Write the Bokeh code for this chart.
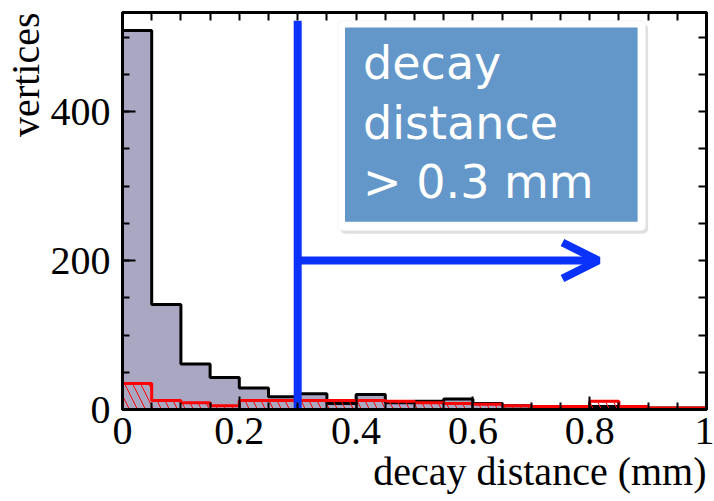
import numpy as np
from bokeh.plotting import figure
from bokeh.models import (Range1d, FixedTicker, LinearAxis, Title, Label,
                          BoxAnnotation, Arrow, OpenHead)
from bokeh.embed import file_html
from bokeh.resources import INLINE

# ---------------- data ----------------
bin_edges = [round(0.05 * i, 2) for i in range(21)]
all_counts = [509, 141, 61, 43, 29, 17, 21, 8, 20, 9, 11, 14, 8, 5, 3, 3, 4, 3, 2, 2]
sel_counts = [35, 12, 9, 5, 12, 12, 12, 12, 12, 11, 9, 8, 7, 5, 4, 4, 11, 4, 2, 2]
x_ticks = [0, 0.2, 0.4, 0.6, 0.8, 1]
y_ticks = [0, 200, 400]
cut_value = 0.3
cut_line_top = 522
arrow_end = 0.815
arrow_y = 200
box_lines = ["decay", "distance", "> 0.3 mm"]

BLUE = "#0a32fa"
GRAY = "#aaa7c3"
SERIF = "Liberation Serif"

p = figure(width=714, height=501, x_range=Range1d(0, 1), y_range=Range1d(0, 533),
           output_backend="svg", toolbar_location=None,
           min_border_left=121, min_border_right=8, min_border_top=12, min_border_bottom=92)
p.xgrid.visible = False
p.ygrid.visible = False
p.outline_line_color = "black"
p.outline_line_width = 3
p.background_fill_color = "white"
p.border_fill_color = "white"

all_steps = all_counts + [all_counts[-1]]
sel_steps = sel_counts + [sel_counts[-1]]

p.varea_step(x=bin_edges, y1=[0] * len(bin_edges), y2=all_steps, step_mode="after",
             fill_color=GRAY)
p.step(x=bin_edges, y=all_steps, mode="after", line_color="black", line_width=3)
p.varea_step(x=bin_edges, y1=[0] * len(bin_edges), y2=sel_steps, step_mode="after",
             fill_alpha=0, hatch_pattern="\\", hatch_color="red",
             hatch_weight=1, hatch_scale=16)
p.step(x=bin_edges, y=sel_steps, mode="after", line_color="red", line_width=3)

# cut line and arrow
p.segment(x0=[cut_value], y0=[0], x1=[cut_value], y1=[cut_line_top],
          line_color=BLUE, line_width=8)
p.add_layout(Arrow(end=OpenHead(size=36, line_color=BLUE, line_width=8),
                   x_start=cut_value, y_start=arrow_y, x_end=arrow_end, y_end=arrow_y,
                   line_color=BLUE, line_width=8))

# annotation box
p.add_layout(BoxAnnotation(left=0.373, right=0.9, bottom=236, top=518,
                           fill_color="black", fill_alpha=0.12, line_color=None,
                           border_radius=5))
p.add_layout(BoxAnnotation(left=0.369, right=0.896, bottom=240, top=522,
                           fill_color="white", fill_alpha=1, line_color="#dddddd",
                           line_width=1, border_radius=5))
p.add_layout(BoxAnnotation(left=0.381, right=0.882, bottom=252, top=513,
                           fill_color="#6397c9", fill_alpha=1, line_color=None))
for i, t in enumerate(box_lines):
    p.add_layout(Label(x=0.412, y=465 - i * 80, text=t, text_color="white",
                       text_font="DejaVu Sans", text_font_size="46px",
                       text_baseline="alphabetic"))

# axes
def style_axis(ax):
    ax.axis_line_color = "black"
    ax.axis_line_width = 3
    ax.major_tick_in = 13
    ax.major_tick_out = 0
    ax.minor_tick_in = 7
    ax.minor_tick_out = 0
    ax.major_tick_line_width = 2
    ax.minor_tick_line_width = 2
    ax.major_tick_line_color = "black"
    ax.minor_tick_line_color = "black"

x_minor = [round(0.05 * i, 2) for i in range(21)]
y_minor = list(range(0, 533, 50))

for ax, ticks, minor in ((p.xaxis[0], x_ticks, x_minor), (p.yaxis[0], y_ticks, y_minor)):
    ax.ticker = FixedTicker(ticks=ticks, minor_ticks=minor)
    style_axis(ax)
    ax.major_label_text_font = SERIF
    ax.major_label_text_font_size = "40px"
    ax.major_label_text_color = "black"
p.xaxis[0].major_label_overrides = {0: "0", 1: "1"}
p.xaxis[0].major_label_standoff = 8
p.yaxis[0].major_label_standoff = 12

# mirrored tick-only axes (no labels): all ticks as minor ticks
top_ax = LinearAxis(ticker=FixedTicker(ticks=[], minor_ticks=x_minor))
right_ax = LinearAxis(ticker=FixedTicker(ticks=[], minor_ticks=y_minor))
for ax in (top_ax, right_ax):
    style_axis(ax)
    ax.minor_tick_in = 8
p.add_layout(top_ax, "above")
p.add_layout(right_ax, "right")

p.add_layout(Title(text="decay distance (mm)", align="right", text_font=SERIF,
                   text_font_size="40px", text_font_style="normal", text_color="black",
                   standoff=0), "below")
p.add_layout(Title(text="vertices", align="right", text_font=SERIF,
                   text_font_size="40px", text_font_style="normal", text_color="black",
                   standoff=0), "left")

open("out.html", "w").write(file_html(p, INLINE))
